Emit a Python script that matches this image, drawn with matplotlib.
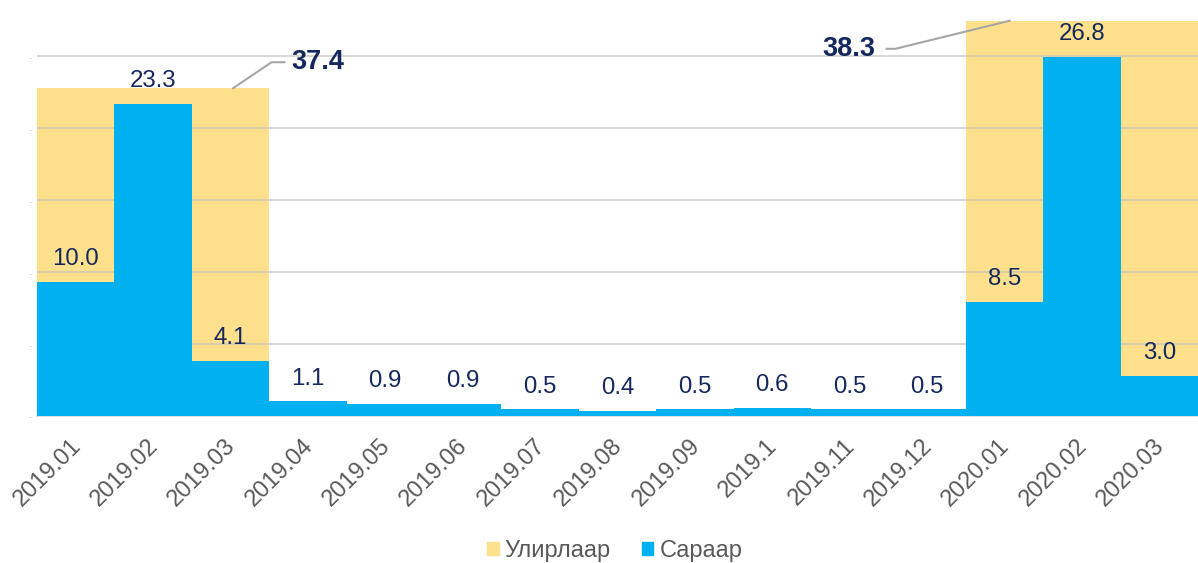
import numpy as np
import matplotlib
matplotlib.use("Agg")
import matplotlib.pyplot as plt
from matplotlib.patches import Patch

plt.rcParams['font.family'] = ['Liberation Sans', 'DejaVu Sans']

# Данные
months = ['2019.01', '2019.02', '2019.03', '2019.04', '2019.05', '2019.06',
          '2019.07', '2019.08', '2019.09', '2019.1', '2019.11', '2019.12',
          '2020.01', '2020.02', '2020.03']
monthly = [10.0, 23.3, 4.1, 1.1, 0.9, 0.9, 0.5, 0.4, 0.5, 0.6, 0.5, 0.5, 8.5, 26.8, 3.0]

quarter_start = [0, 12]          # индекс первого месяца квартала
quarter_total = [37.4, 38.3]     # подписи
quarter_bar_height = [24.45, 29.5]  # высота жёлтого блока как на картинке

grid_ticks = np.linspace(0, 26.85, 6)

yellow = '#FFE08C'
blue = '#00B0F0'
navy = '#14285E'

fig = plt.figure(figsize=(11.98, 5.63), dpi=100)
ax = fig.add_axes([37 / 1198, 1 - 416 / 563, 1 - 37 / 1198, (416 - 20) / 563])

x = np.arange(len(months))

# Квартальные блоки
for s, h in zip(quarter_start, quarter_bar_height):
    ax.bar(s + 1, h, width=3, color=yellow, zorder=1)

# Месячные столбцы
ax.bar(x, monthly, width=1.0, color=blue, zorder=3)

for xi, v in zip(x, monthly):
    ax.annotate(f'{v:.1f}', (xi, v), xytext=(0, 12), textcoords='offset points',
                ha='center', va='baseline', fontsize=17.3, color=navy, zorder=5)

# Выноски квартальных сумм
ax.annotate(f'{quarter_total[0]:.1f}', xy=(quarter_start[0] + 2.03, quarter_bar_height[0]),
            xytext=(quarter_start[0] + 2.79, 26.4), ha='left', va='center',
            fontsize=19.5, fontweight='bold', color=navy,
            arrowprops=dict(arrowstyle='-', color='#A6A6A6', lw=1.5, relpos=(0, 0.5),
                            shrinkA=3, shrinkB=0,
                            connectionstyle='angle,angleA=0,angleB=34,rad=0'),
            annotation_clip=False, zorder=6)
ax.annotate(f'{quarter_total[1]:.1f}', xy=(quarter_start[1] + 0.07, quarter_bar_height[1]),
            xytext=(quarter_start[1] - 1.67, 27.4), ha='right', va='center',
            fontsize=19.5, fontweight='bold', color=navy,
            arrowprops=dict(arrowstyle='-', color='#A6A6A6', lw=1.5, relpos=(1, 0.5),
                            shrinkA=6, shrinkB=0,
                            connectionstyle='angle,angleA=0,angleB=13.8,rad=0'),
            annotation_clip=False, zorder=6)

ax.set_xlim(-0.5, len(months) - 0.5)
ax.set_ylim(0, 29.55)
ax.set_yticks(grid_ticks)
ax.set_yticklabels(['..'] * len(grid_ticks), fontsize=5, color='#A6A6A6')
ax.yaxis.grid(True, color='#BFBFBF', alpha=0.6, lw=1.5, zorder=2)
ax.set_axisbelow(False)
for line in ax.get_ygridlines():
    line.set_zorder(2)

ax.set_xticks(x)
ax.set_xticklabels(months, rotation=45, ha='right', va='center_baseline',
                   rotation_mode='anchor', fontsize=17, color='#595959')
ax.tick_params(axis='x', length=0, pad=18)
ax.tick_params(axis='y', length=0, pad=3)

for side in ['top', 'right', 'left']:
    ax.spines[side].set_visible(False)
ax.spines['bottom'].set_color('#D9D9D9')
ax.spines['bottom'].set_linewidth(1.2)

handles = [Patch(color=yellow, label='Улирлаар'), Patch(color=blue, label='Сараар')]
fig.legend(handles=handles, loc='center', bbox_to_anchor=(0.513, 1 - 551 / 563), ncol=2,
           frameon=False, fontsize=17, labelcolor='#595959', handlelength=0.5,
           handleheight=0.5, handletextpad=0.25, columnspacing=1.3)

fig.savefig('out.png', dpi=100)
